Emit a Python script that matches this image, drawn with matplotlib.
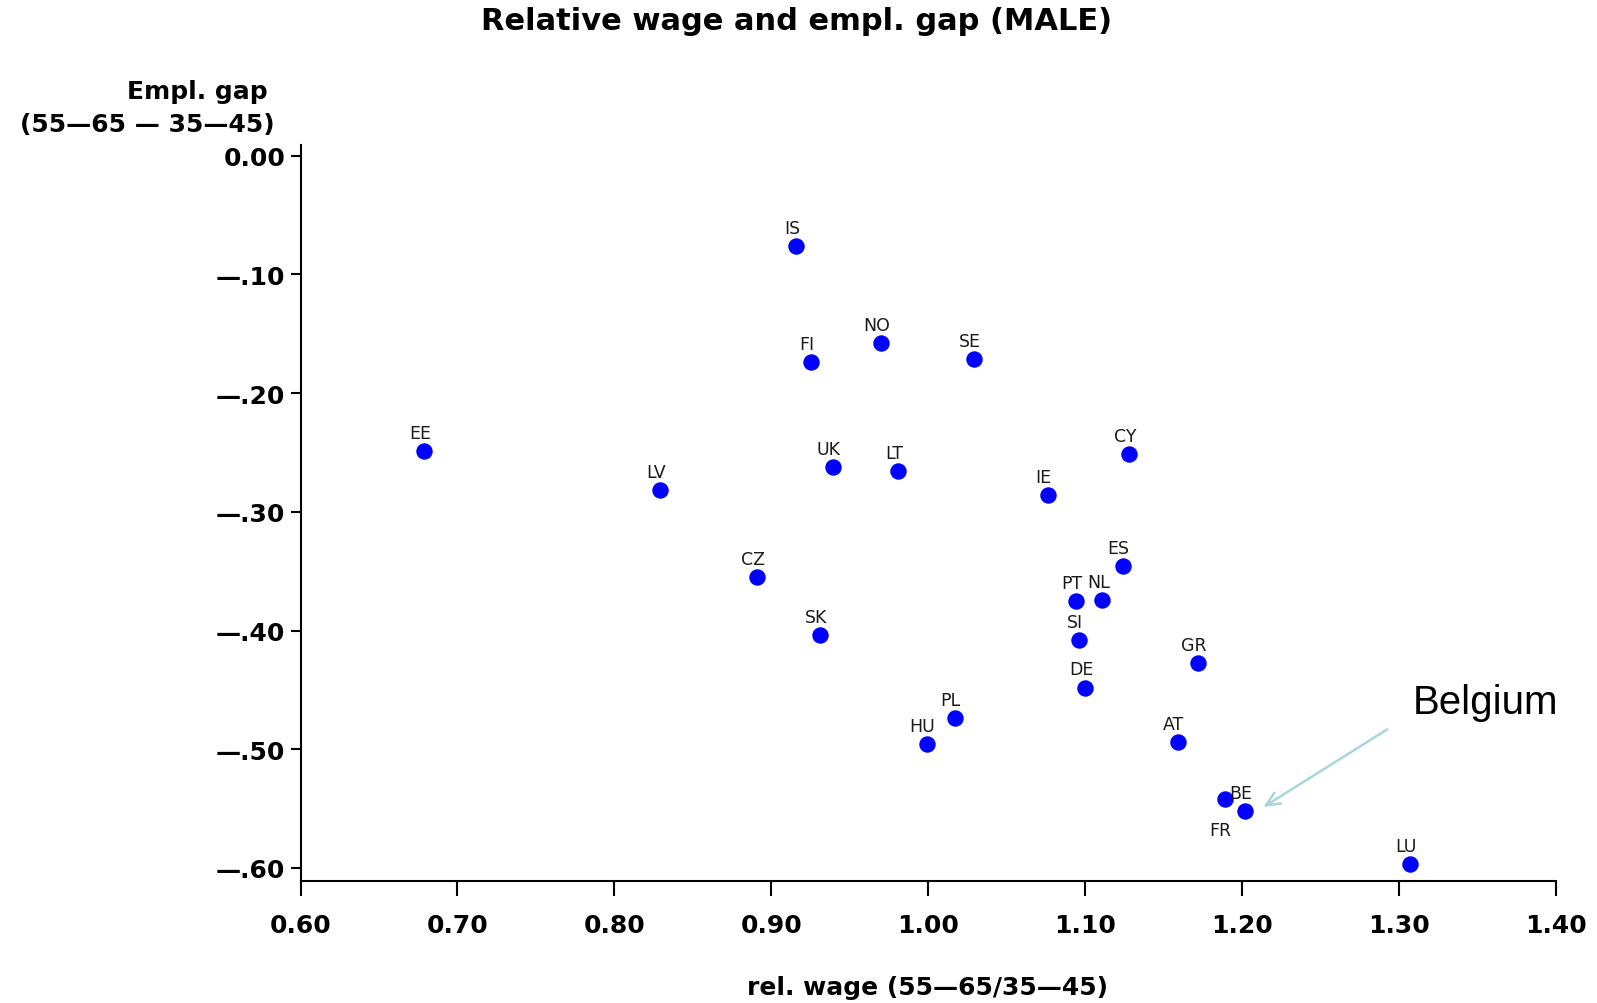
import numpy as np
import matplotlib
matplotlib.use("Agg")
import matplotlib.pyplot as plt

# country codes, relative wage (x) and employment gap (y)
countries = ['IS', 'NO', 'FI', 'SE', 'EE', 'LV', 'UK', 'LT', 'IE', 'CY', 'CZ', 'SK',
             'ES', 'PT', 'NL', 'SI', 'GR', 'DE', 'PL', 'HU', 'AT', 'FR', 'BE', 'LU']
rel_wage = [0.916, 0.970, 0.925, 1.029, 0.679, 0.829, 0.939, 0.981, 1.076, 1.128, 0.891, 0.931,
            1.124, 1.094, 1.111, 1.096, 1.172, 1.100, 1.017, 0.999, 1.159, 1.189, 1.202, 1.307]
empl_gap = [-0.076, -0.158, -0.174, -0.171, -0.249, -0.282, -0.262, -0.266, -0.286, -0.251, -0.355, -0.404,
            -0.346, -0.375, -0.374, -0.408, -0.427, -0.448, -0.474, -0.496, -0.494, -0.542, -0.552, -0.597]

xticks = [0.6, 0.7, 0.8, 0.9, 1.0, 1.1, 1.2, 1.3, 1.4]
xticklabels = ['0.60', '0.70', '0.80', '0.90', '1.00', '1.10', '1.20', '1.30', '1.40']
yticks = [0.0, -0.1, -0.2, -0.3, -0.4, -0.5, -0.6]
yticklabels = ['0.00', '\u2014.10', '\u2014.20', '\u2014.30', '\u2014.40', '\u2014.50', '\u2014.60']

W, H = 1597, 1004
fig = plt.figure(figsize=(W / 100, H / 100), dpi=100)
ax = fig.add_axes([300.5 / W, 1 - 882 / H, (1556 - 300.5) / W, (882 - 146) / H])

ax.scatter(rel_wage, empl_gap, s=140, color='#0000ff', zorder=3, linewidths=0)

# labels above the dots (FR sits below because of BE)
for c, x, y in zip(countries, rel_wage, empl_gap):
    off = (-3, 13)
    if c == 'FR':
        off = (-3, -22)
    ax.annotate(c, (x, y), xytext=off, textcoords='offset points',
                ha='center', va='center', fontsize=12.5, color='#1a1a1a')

# Belgium call-out
ax.annotate('', xy=(1.212, -0.550), xytext=(1.294, -0.482),
            arrowprops=dict(arrowstyle='->,head_length=1.0,head_width=0.45',
                            color='#a9d6da', lw=1.8))
ax.text(1.355, -0.460, 'Belgium', fontsize=29, family='Liberation Sans',
        ha='center', va='center', color='black')

ax.set_xlim(0.6, 1.4)
ax.set_ylim(-0.611, 0.009)
ax.spines['top'].set_visible(False)
ax.spines['right'].set_visible(False)
ax.spines['left'].set_linewidth(1.5)
ax.spines['bottom'].set_linewidth(1.5)

ax.set_xticks(xticks)
ax.set_xticklabels(xticklabels, fontsize=18, fontweight='bold')
ax.set_yticks(yticks)
ax.set_yticklabels(yticklabels, fontsize=18, fontweight='bold')
ax.tick_params(axis='x', length=11, width=1.5, pad=12)
ax.tick_params(axis='y', length=7, width=1.5, pad=4)

fig.text(782 / W * 1.0185, 1 - 22 / H, 'Relative wage and empl. gap (MALE)', ha='center', va='center',
         fontsize=22, fontweight='bold')
fig.text(268 / W, 1 - 92 / H, 'Empl. gap', ha='right', va='center', fontsize=18, fontweight='bold')
fig.text(275 / W, 1 - 125 / H, '(55\u201465 \u2014 35\u201445)', ha='right', va='center',
         fontsize=18, fontweight='bold')
fig.text(927 / W, 1 - 988 / H, 'rel. wage (55\u201465/35\u201445)', ha='center', va='center',
         fontsize=18, fontweight='bold')

fig.savefig('out.png', dpi=100)
